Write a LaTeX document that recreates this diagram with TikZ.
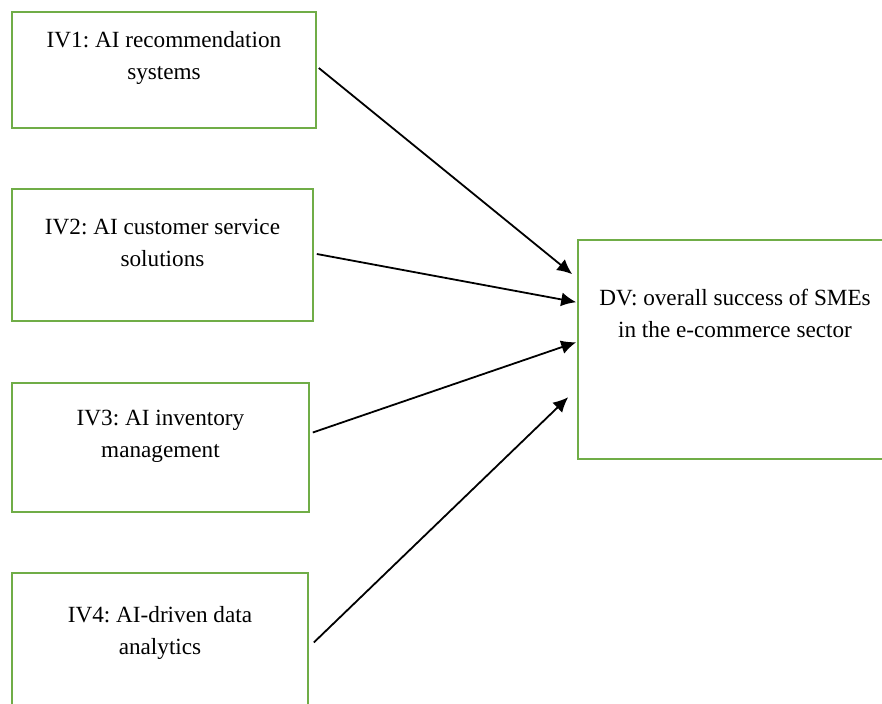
\documentclass[tikz,border=0pt]{standalone}
\usepackage{fontspec}
\setmainfont{Liberation Serif}
\usetikzlibrary{arrows.meta, calc}
\definecolor{boxgreen}{RGB}{112,173,71}
\frenchspacing

\begin{document}
\begin{tikzpicture}[
  x=0.5pt, y=-0.5pt,
  font=\fontsize{11.6}{16}\selectfont,
  box/.style={draw=boxgreen, line width=0.8pt, rectangle, inner sep=0pt},
  txt/.style={align=center, inner sep=0pt},
  arr/.style={-{Latex[length=7.5pt, width=7pt]}, line width=0.9pt},
]
\useasboundingbox (0,0) rectangle (882,704);
\clip (0,0) rectangle (882,704);

%% Independent variables
\node[box, minimum width=152pt, minimum height=58pt] (iv1) at (164, 70) {};
\node[box, minimum width=150.5pt, minimum height=66pt] (iv2) at (162.5, 255) {};
\node[box, minimum width=148.5pt, minimum height=64.5pt] (iv3) at (160.5, 447.5) {};
\node[box, minimum width=148pt, minimum height=68.5pt] (iv4) at (160, 641.5) {};

\node[txt] (iv1txt) at ([yshift=-23.5pt]iv1.north) {IV1: AI recommendation\\systems};
\node[txt] (iv2txt) at ([yshift=-27.5pt]iv2.north) {IV2: AI customer service\\solutions};
\node[txt] (iv3txt) at ([yshift=-27pt]iv3.north) {IV3: AI inventory\\management};
\node[txt] (iv4txt) at ([yshift=-30.5pt]iv4.north) {IV4: AI-driven data\\analytics};

%% Dependent variable
\node[box, minimum width=157pt, minimum height=109.5pt] (dv) at (735, 349.5) {};
\node[txt] (dvtxt) at ([yshift=-37pt]dv.north) {DV: overall success of SMEs\\in the e-commerce sector};

%% Paths
\draw[arr] ($(iv1.east)+(2,-2)$) -- ($(dv.north west)+(-5,35)$);
\draw[arr] ($(iv2.east)+(3,-1)$) -- ($(dv.north west)+(-1,63)$);
\draw[arr] ($(iv3.east)+(3,-15)$) -- ($(dv.north west)+(-1,103)$);
\draw[arr] ($(iv4.east)+(5,1)$) -- ($(dv.north west)+(-9,158)$);

\end{tikzpicture}
\end{document}
